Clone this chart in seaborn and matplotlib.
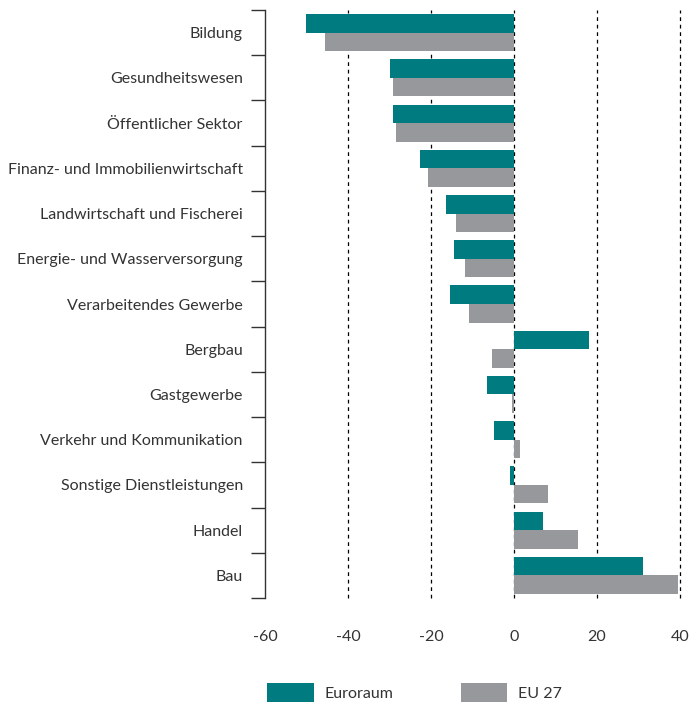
import pandas as pd
import numpy as np
import matplotlib.pyplot as plt
import seaborn as sns
from matplotlib.patches import Patch

# Sectors (top to bottom) and values
sectors = ["Bildung", "Gesundheitswesen", "Öffentlicher Sektor",
           "Finanz- und Immobilienwirtschaft", "Landwirtschaft und Fischerei",
           "Energie- und Wasserversorgung", "Verarbeitendes Gewerbe", "Bergbau",
           "Gastgewerbe", "Verkehr und Kommunikation", "Sonstige Dienstleistungen",
           "Handel", "Bau"]
euroraum = [-50.1, -29.9, -29.2, -22.7, -16.4, -14.5, -15.4, 18.1, -6.5, -4.8, -1.0, 7.0, 31.1]
eu27 = [-45.5, -29.2, -28.4, -20.7, -14.0, -11.8, -10.8, -5.3, -0.5, 1.4, 8.2, 15.4, 39.5]
series = ["Euroraum", "EU 27"]
xticks = [-60, -40, -20, 0, 20, 40]

colors = ["#007b80", "#97989c"]

df = pd.DataFrame({
    "Sektor": sectors * 2,
    "Wert": euroraum + eu27,
    "Region": [series[0]] * len(sectors) + [series[1]] * len(sectors),
})

sns.set_style("white")
plt.rcParams['font.family'] = ['Lato', 'DejaVu Sans']

fig = plt.figure(figsize=(6.9, 7.02), dpi=100)
ax = fig.add_axes([265 / 690, 1 - 598 / 702, 415 / 690, 588 / 702])

sns.barplot(data=df, y="Sektor", x="Wert", hue="Region", order=sectors,
            hue_order=series, palette=colors, orient="h", width=0.82,
            saturation=1, legend=False, linewidth=0, ax=ax)

ax.set_xlim(-60, 40)
ax.set_ylim(len(sectors) - 0.5, -0.5)
ax.set_xlabel("")
ax.set_ylabel("")

# dashed vertical grid lines
for t in xticks[1:]:
    ax.axvline(t, color="black", linestyle=(0, (3, 3)), linewidth=0.9, zorder=0,
               clip_on=False)

ax.set_xticks(xticks)
ax.set_xticklabels([str(t) for t in xticks], fontsize=11.5, color="#333333")
ax.tick_params(axis="x", length=15, width=1, color="#555555", pad=8)

# category labels in the middle, tick marks at the boundaries
ax.set_yticks(np.arange(len(sectors)))
ax.set_yticklabels(sectors, fontsize=11.5, color="#333333")
ax.set_yticks(np.arange(len(sectors) + 1) - 0.5, minor=True)
ax.tick_params(axis="y", which="major", length=0, pad=16)
ax.tick_params(axis="y", which="minor", length=10, width=1, color="#333333", left=True)

for side in ["top", "right", "bottom"]:
    ax.spines[side].set_visible(False)
ax.spines["left"].set_color("#333333")
ax.spines["left"].set_linewidth(1)

handles = [Patch(facecolor=c, edgecolor="none") for c in colors]
fig.legend(handles, series, loc="lower left", bbox_to_anchor=(253 / 690, -0.022),
           ncol=2, frameon=False, fontsize=11.5, handlelength=2.9, handleheight=1.6,
           handletextpad=0.7, columnspacing=4.2, labelcolor="#333333")

fig.savefig("out.png", dpi=100)
